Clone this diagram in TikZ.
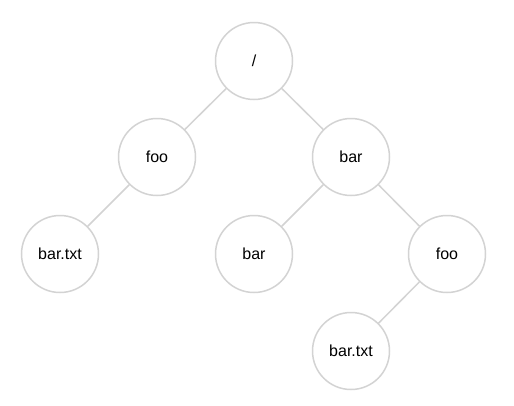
\documentclass[tikz,border=0pt]{standalone}
\usepackage{fontspec}
\setmainfont{Liberation Sans}
\definecolor{edgegray}{HTML}{D3D3D3}
\begin{document}
\begin{tikzpicture}[x=1pt,y=-1pt,
  tnode/.style={circle,draw=edgegray,line width=1.5pt,fill=white,minimum size=77pt,inner sep=0pt,font=\fontsize{16}{19}\selectfont},
  tedge/.style={draw=edgegray,line width=1.5pt}]
\useasboundingbox[fill=white] (0,0) rectangle (514,405);
\node[tnode] (root) at (254,61) {/};
\node[tnode] (foo) at (157,157) {foo};
\node[tnode] (bar) at (351,157) {bar};
\node[tnode] (bartxt) at (60,254) {bar.txt};
\node[tnode] (barbar) at (254,254) {bar};
\node[tnode] (barfoo) at (447,254) {foo};
\node[tnode] (barfootxt) at (351,351) {bar.txt};
\draw[tedge] (root) -- (foo);
\draw[tedge] (root) -- (bar);
\draw[tedge] (foo) -- (bartxt);
\draw[tedge] (bar) -- (barbar);
\draw[tedge] (bar) -- (barfoo);
\draw[tedge] (barfoo) -- (barfootxt);
\end{tikzpicture}
\end{document}
